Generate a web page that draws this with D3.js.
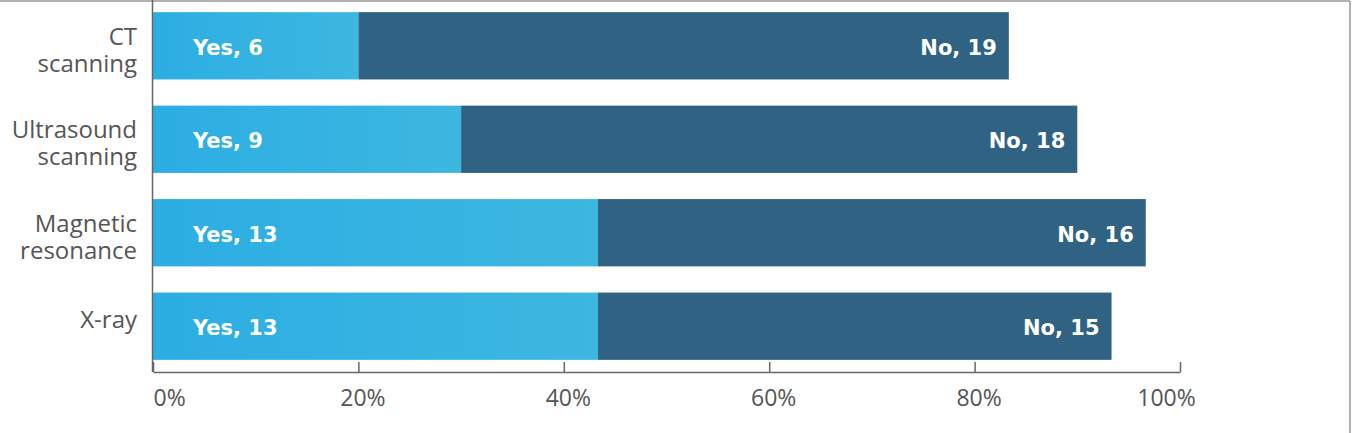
<!DOCTYPE html>
<html>
<head>
<meta charset="utf-8">
<script src="https://cdn.jsdelivr.net/npm/d3@7"></script>
<style>
  html, body { margin: 0; padding: 0; background: #fff; }
  svg { display: block; }
</style>
</head>
<body>
<svg id="chart" width="1354" height="433"></svg>
<script>
const categories = ["CT scanning", "Ultrasound scanning", "Magnetic resonance", "X-ray"];
const yesValues = [6, 9, 13, 13];
const noValues = [19, 18, 16, 15];
const tickLabels = ["0%", "20%", "40%", "60%", "80%", "100%"];
const axisMax = 30;

const svg = d3.select("#chart");
const W = 1354, H = 433;

const x = d3.scaleLinear().domain([0, axisMax]).range([153, 1180]);
const y = d3.scaleBand().domain(categories).range([0, 372]).paddingInner(0.28).paddingOuter(0.13);

// gradient for Yes bars
const defs = svg.append("defs");
const grad = defs.append("linearGradient").attr("id", "yesGrad").attr("x1", "0").attr("x2", "1").attr("y1", "0").attr("y2", "0");
grad.append("stop").attr("offset", "0%").attr("stop-color", "#2cade3");
grad.append("stop").attr("offset", "100%").attr("stop-color", "#3db7e0");

// frame (top and right)
svg.append("line").attr("x1", 0).attr("x2", 1350).attr("y1", 1).attr("y2", 1).attr("stroke", "#999").attr("stroke-width", 1.5);
svg.append("line").attr("x1", 1350).attr("x2", 1350).attr("y1", 1).attr("y2", H).attr("stroke", "#999").attr("stroke-width", 1.5);

const data = categories.map((c, i) => ({ c, yes: yesValues[i], no: noValues[i] }));

// Bars
const g = svg.append("g");
g.selectAll("rect.yes").data(data).join("rect").attr("class", "yes")
  .attr("x", x(0)).attr("y", d => y(d.c))
  .attr("width", d => x(d.yes) - x(0)).attr("height", y.bandwidth())
  .attr("fill", "url(#yesGrad)");
g.selectAll("rect.no").data(data).join("rect").attr("class", "no")
  .attr("x", d => x(d.yes)).attr("y", d => y(d.c))
  .attr("width", d => x(d.yes + d.no) - x(d.yes)).attr("height", y.bandwidth())
  .attr("fill", "#2f6283");

// Bar labels
const labelFont = "'DejaVu Sans', sans-serif";
g.selectAll("text.yl").data(data).join("text").attr("class", "yl")
  .attr("x", x(0) + 40).attr("y", d => y(d.c) + y.bandwidth() / 2 + 9)
  .attr("fill", "#fff").attr("font-family", labelFont).attr("font-weight", "bold").attr("font-size", 21)
  .text(d => "Yes, " + d.yes);
g.selectAll("text.nl").data(data).join("text").attr("class", "nl")
  .attr("x", d => x(d.yes + d.no) - 12).attr("y", d => y(d.c) + y.bandwidth() / 2 + 9)
  .attr("text-anchor", "end")
  .attr("fill", "#fff").attr("font-family", labelFont).attr("font-weight", "bold").attr("font-size", 21)
  .text(d => "No, " + d.no);

// Category labels
const catFont = "'Open Sans', sans-serif";
data.forEach(d => {
  const words = d.c.split(" ");
  const cy = y(d.c) + y.bandwidth() / 2;
  const t = svg.append("text").attr("text-anchor", "end")
    .attr("font-family", catFont).attr("font-weight", 400).attr("font-size", 24).attr("fill", "#555");
  if (words.length === 1) {
    t.append("tspan").attr("x", 137).attr("y", cy + 2).text(words[0]);
  } else {
    t.append("tspan").attr("x", 137).attr("y", cy - 1).text(words[0]);
    t.append("tspan").attr("x", 137).attr("y", cy + 26).text(words.slice(1).join(" "));
  }
});

// Left axis line
svg.append("line").attr("x1", 152.5).attr("x2", 152.5).attr("y1", 0).attr("y2", 372)
  .attr("stroke", "#666").attr("stroke-width", 1.5);

// Bottom axis
const tickVals = d3.range(0, axisMax + 0.001, axisMax / 5);
const xAxis = d3.axisBottom(x).tickValues(tickVals).tickSize(-10).tickSizeOuter(0)
  .tickFormat((d, i) => tickLabels[i]);
const ax = svg.append("g").attr("transform", "translate(0,372)").call(xAxis);
ax.select(".domain").attr("stroke", "#666").attr("stroke-width", 1.5);
ax.selectAll(".tick line").attr("stroke", "#666").attr("stroke-width", 1.5);
ax.selectAll(".tick text")
  .attr("font-family", catFont).attr("font-weight", 400).attr("font-size", 23).attr("fill", "#555")
  .attr("y", 18).attr("dy", "0.71em")
  .attr("text-anchor", (d, i) => i === 0 ? "start" : "middle")
  .attr("dx", (d, i) => i === tickLabels.length - 1 ? -14 : (i === 0 ? 0 : 4));
</script>
</body>
</html>
